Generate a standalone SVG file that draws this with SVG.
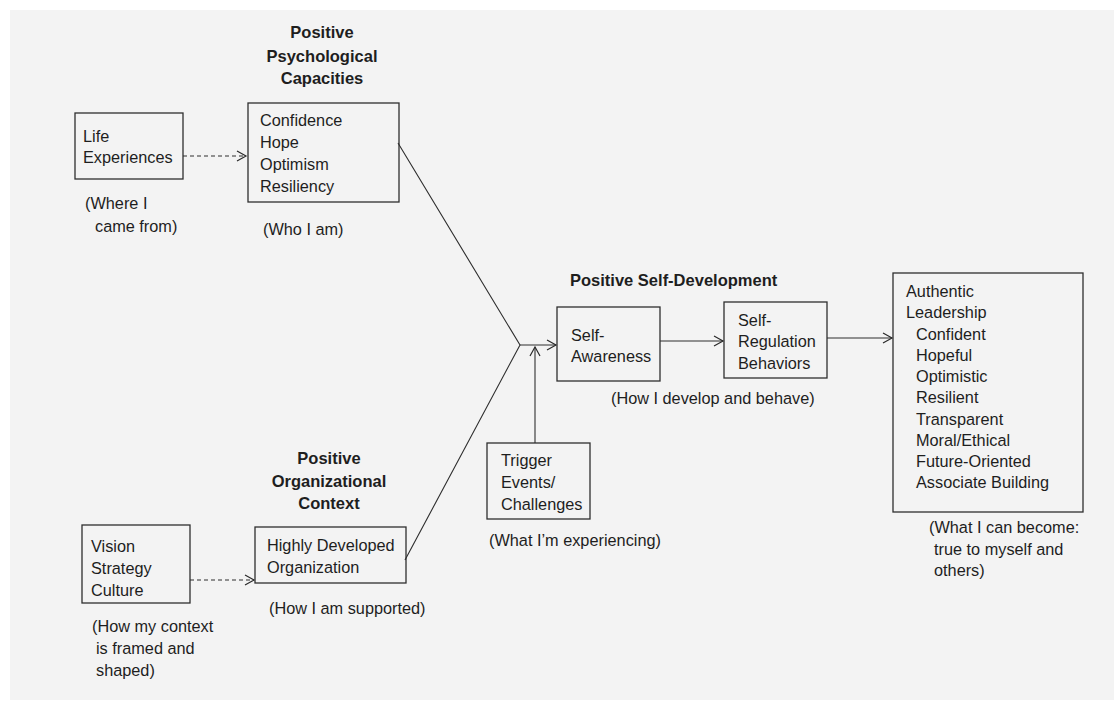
<svg xmlns="http://www.w3.org/2000/svg" width="1114" height="713" viewBox="0 0 1114 713">
<defs>
<marker id="arr" markerWidth="12" markerHeight="12" refX="10" refY="6" orient="auto" markerUnits="userSpaceOnUse">
<path d="M1,1 L10,6 L1,11" fill="none" stroke="#2a2a2a" stroke-width="1.2"/>
</marker>
</defs>
<style>
text{font-family:"Liberation Sans",Arial,sans-serif;font-size:16.3px;fill:#1e1e1e}
.t{font-weight:bold;font-size:16.5px;text-anchor:middle}
.tl{font-weight:bold;font-size:16.5px}
.box{fill:none;stroke:#2e2e2e;stroke-width:1.3}
.ln{fill:none;stroke:#2e2e2e;stroke-width:1.1}
.ds{fill:none;stroke:#2e2e2e;stroke-width:1.1;stroke-dasharray:4 3}
</style>
<rect x="0" y="0" width="1114" height="713" fill="#ffffff"/>
<rect x="10" y="10" width="1104" height="690" fill="#f3f3f3"/>

<g id="connectors">
<line class="ds" x1="183" y1="156" x2="246" y2="156" marker-end="url(#arr)"/>
<line class="ds" x1="190" y1="580" x2="254" y2="580" marker-end="url(#arr)"/>
<polyline class="ln" points="398,143 520,345 405,560"/>
<line class="ln" x1="520" y1="345" x2="556" y2="345" marker-end="url(#arr)"/>
<line class="ln" x1="535" y1="443" x2="535" y2="347" marker-end="url(#arr)"/>
<line class="ln" x1="660" y1="341" x2="723" y2="341" marker-end="url(#arr)"/>
<line class="ln" x1="827" y1="338" x2="892" y2="338" marker-end="url(#arr)"/>
</g>

<g id="life-experiences">
<rect class="box" x="75" y="113" width="108" height="66"/>
<text x="83" y="142">Life</text>
<text x="83" y="163">Experiences</text>
<text x="85" y="209">(Where I</text>
<text x="95" y="232">came from)</text>
</g>

<g id="psychological-capacities">
<text class="t" x="322" y="38">Positive</text>
<text class="t" x="322" y="61.5">Psychological</text>
<text class="t" x="322" y="84">Capacities</text>
<rect class="box" x="248" y="103" width="151" height="99"/>
<text x="260" y="126">Confidence</text>
<text x="260" y="148">Hope</text>
<text x="260" y="170">Optimism</text>
<text x="260" y="192">Resiliency</text>
<text x="263" y="235">(Who I am)</text>
</g>

<g id="vision-strategy-culture">
<rect class="box" x="82" y="525" width="108" height="78"/>
<text x="91" y="552">Vision</text>
<text x="91" y="574">Strategy</text>
<text x="91" y="596">Culture</text>
<text x="92" y="632">(How my context</text>
<text x="96" y="654">is framed and</text>
<text x="96" y="676">shaped)</text>
</g>

<g id="organizational-context">
<text class="t" x="329" y="464">Positive</text>
<text class="t" x="329" y="486.5">Organizational</text>
<text class="t" x="329" y="509">Context</text>
<rect class="box" x="255" y="527" width="151" height="56"/>
<text x="267" y="551">Highly Developed</text>
<text x="267" y="573">Organization</text>
<text x="269" y="614">(How I am supported)</text>
</g>

<g id="self-development-title">
<text class="tl" x="570" y="286">Positive Self-Development</text>
<text x="611" y="404">(How I develop and behave)</text>
</g>

<g id="self-awareness">
<rect class="box" x="557" y="307" width="103" height="74"/>
<text x="571" y="341">Self-</text>
<text x="571" y="362">Awareness</text>
</g>

<g id="self-regulation">
<rect class="box" x="724" y="302" width="103" height="76"/>
<text x="738" y="326">Self-</text>
<text x="738" y="347">Regulation</text>
<text x="738" y="369">Behaviors</text>
</g>

<g id="trigger-events">
<rect class="box" x="487" y="443" width="103" height="76"/>
<text x="501" y="466">Trigger</text>
<text x="501" y="488">Events/</text>
<text x="501" y="510">Challenges</text>
<text x="489" y="546">(What I’m experiencing)</text>
</g>

<g id="authentic-leadership">
<rect class="box" x="893" y="273" width="190" height="239"/>
<text x="906" y="297">Authentic</text>
<text x="906" y="318">Leadership</text>
<text x="916" y="340">Confident</text>
<text x="916" y="361">Hopeful</text>
<text x="916" y="382">Optimistic</text>
<text x="916" y="403">Resilient</text>
<text x="916" y="425">Transparent</text>
<text x="916" y="446">Moral/Ethical</text>
<text x="916" y="467">Future-Oriented</text>
<text x="916" y="488">Associate Building</text>
<text x="929" y="533">(What I can become:</text>
<text x="934" y="555">true to myself and</text>
<text x="934" y="576">others)</text>
</g>
</svg>
